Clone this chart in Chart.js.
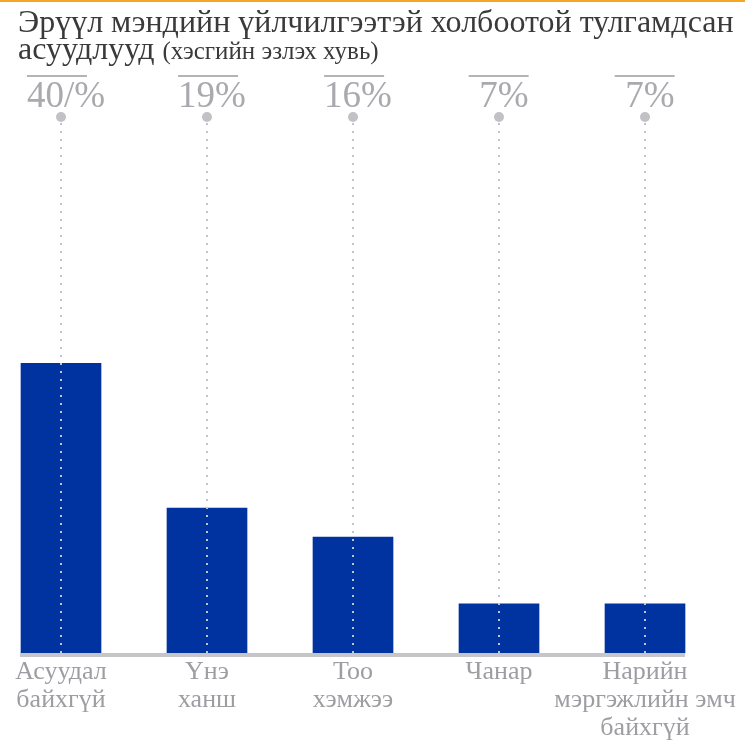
<!DOCTYPE html>
<html>
<head>
<meta charset="utf-8">
<script src="https://cdn.jsdelivr.net/npm/chart.js@4"></script>
<style>
    body { margin: 0; background: #fff; }
    #wrap { position: relative; width: 754px; height: 742px; overflow: hidden; }
    #topline { position: absolute; left: 0; top: 0; width: 745px; height: 2px; background: #f5a623; }
    #title {
        position: absolute; left: 18px; top: 8px; width: 740px;
        font-family: "Liberation Serif", serif; color: #3a3a3a;
        font-size: 32px; line-height: 27px; white-space: nowrap;
    }
    #title small { font-size: 25px; }
    canvas { position: absolute; left: 0; top: 0; }
</style>
</head>
<body>
<div id="wrap">
    <canvas id="grafik" width="754" height="742"></canvas>
    <div id="topline"></div>
    <div id="title">Эрүүл мэндийн үйлчилгээтэй холбоотой тулгамдсан<br>асуудлууд <small>(хэсгийн эзлэх хувь)</small></div>
</div>
<script>
// data
const kategori = [
    ["Асуудал", "байхгүй"],
    ["Үнэ", "ханш"],
    ["Тоо", "хэмжээ"],
    ["Чанар"],
    ["Нарийн", "мэргэжлийн эмч", "байхгүй"]
];
const nilai = [40, 20, 16, 6.8, 6.8];
const labelPersen = ["40/%", "19%", "16%", "7%", "7%"];

const abu = "#c6c6ca";
const SERIF = '"Liberation Serif", serif';

/* garis dasar, garis titik, bulatan & label persen */
const dekorasi = {
    id: "dekorasi",
    afterDatasetsDraw(chart) {
        const ctx = chart.ctx;
        const area = chart.chartArea;
        const bars = chart.getDatasetMeta(0).data;
        ctx.save();

        // baseline
        const kiri = bars[0].x - bars[0].width / 2 - 1;
        const kanan = bars[bars.length - 1].x + bars[bars.length - 1].width / 2;
        ctx.fillStyle = abu;
        ctx.fillRect(kiri, area.bottom, kanan - kiri, 4);

        bars.forEach((b, i) => {
            // garis titik
            ctx.strokeStyle = "#c4c4c8";
            ctx.lineWidth = 2;
            ctx.setLineDash([2, 6]);
            ctx.beginPath();
            ctx.moveTo(b.x, area.top + 6);
            ctx.lineTo(b.x, area.bottom);
            ctx.stroke();
            ctx.setLineDash([]);

            // bulatan
            ctx.fillStyle = "#c2c2c6";
            ctx.beginPath();
            ctx.arc(b.x, area.top, 5, 0, Math.PI * 2);
            ctx.fill();

            // label persen
            ctx.font = "37px " + SERIF;
            ctx.fillStyle = "#a9a9ae";
            ctx.textAlign = "center";
            ctx.textBaseline = "alphabetic";
            const teks = labelPersen[i];
            const tx = b.x + 5;
            ctx.fillText(teks, tx, area.top - 10);

            // garis atas
            const w = ctx.measureText(teks).width;
            const l = tx - w / 2;
            const x0 = w >= 60 ? l : l + w - 60;
            ctx.fillStyle = "#b4b4b8";
            ctx.fillRect(x0, area.top - 42, 60, 2);
        });
        ctx.restore();
    }
};

new Chart(document.getElementById("grafik").getContext("2d"), {
    type: "bar",
    data: {
        labels: kategori,
        datasets: [{
            data: nilai,
            backgroundColor: "#0033a0",
            barThickness: 80,
            clip: false
        }]
    },
    options: {
        responsive: false,
        animation: false,
        layout: { padding: { top: 117, left: 61, right: 109, bottom: 0 } },
        plugins: {
            legend: { display: false },
            tooltip: { enabled: false }
        },
        scales: {
            x: {
                offset: false,
                grid: { display: false },
                border: { display: false },
                afterFit: (s) => { s.height = 89; },
                ticks: {
                    autoSkip: false,
                    maxRotation: 0,
                    padding: -3,
                    color: "#9d9da2",
                    font: { family: SERIF, size: 26, lineHeight: 1.08 }
                }
            },
            y: {
                display: false,
                min: 0,
                max: 74
            }
        }
    },
    plugins: [dekorasi]
});
</script>
</body>
</html>
